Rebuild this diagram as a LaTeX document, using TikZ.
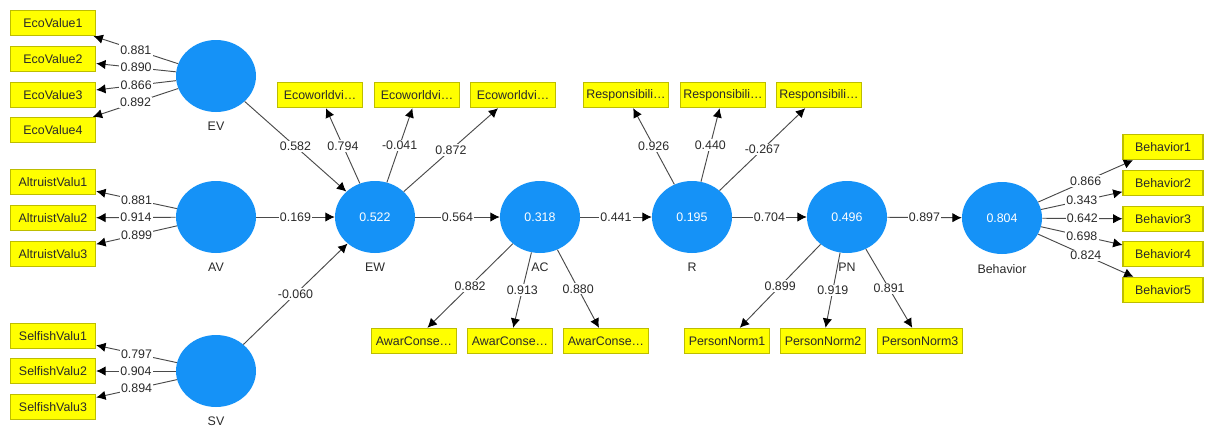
\documentclass[tikz,border=0pt]{standalone}
\usepackage{fontspec}
\setmainfont{Liberation Sans}
\usetikzlibrary{shapes.geometric}
\usetikzlibrary{arrows.meta}
\usetikzlibrary{positioning}

\definecolor{latentblue}{HTML}{1592F7}
\definecolor{itemyellow}{HTML}{FFFF00}
\definecolor{itemborder}{HTML}{BDBD00}
\definecolor{linegray}{HTML}{4A4A4A}
\definecolor{textdark}{HTML}{2A2A2A}

\begin{document}
\begin{tikzpicture}[
    x=0.75pt, y=-0.75pt,
    font=\fontsize{9.3}{11}\selectfont,
    latentnode/.style={ellipse, fill=latentblue, text=white, minimum width=60pt, minimum height=54pt, inner sep=0pt,
        label={[label distance=4pt, text=textdark]below:#1}},
    itemnode/.style={rectangle, fill=itemyellow, draw=itemborder, line width=0.8pt, text=textdark, minimum width=64pt, minimum height=19pt, inner sep=1pt},
    coefnode/.style={fill=white, inner sep=1pt, text=textdark, midway},
    pathline/.style={draw=linegray, line width=0.7pt, -{Latex[length=7pt, width=7pt, color=black]}},
    ]

    \useasboundingbox[fill=white] (0,0) rectangle (1205,429);

    %Latent variables
    \node[latentnode=EV] (ev) at (216,76) {};
    \node[latentnode=AV] (av) at (216,217) {};
    \node[latentnode=SV] (sv) at (216,371) {};
    \node[latentnode=EW] (ew) at (375,217) {0.522};
    \node[latentnode=AC] (ac) at (540,217) {0.318};
    \node[latentnode=R] (r) at (692,217) {0.195};
    \node[latentnode=PN] (pn) at (847,217) {0.496};
    \node[latentnode=Behavior] (beh) at (1002,218) {0.804};

    %Indicators
    \node[itemnode] (ecovalue1) at (53,23) {EcoValue1};
    \node[itemnode] (ecovalue2) at (53,59) {EcoValue2};
    \node[itemnode] (ecovalue3) at (53,95) {EcoValue3};
    \node[itemnode] (ecovalue4) at (53,130) {EcoValue4};
    \node[itemnode] (altruist1) at (53,182) {AltruistValu1};
    \node[itemnode] (altruist2) at (53,218) {AltruistValu2};
    \node[itemnode] (altruist3) at (53,254) {AltruistValu3};
    \node[itemnode] (selfish1) at (53,336) {SelfishValu1};
    \node[itemnode] (selfish2) at (53,371) {SelfishValu2};
    \node[itemnode] (selfish3) at (53,407) {SelfishValu3};
    \node[itemnode] (ecoworld1) at (320,95) {Ecoworldvi…};
    \node[itemnode] (ecoworld2) at (417,95) {Ecoworldvi…};
    \node[itemnode] (ecoworld3) at (513,95) {Ecoworldvi…};
    \node[itemnode] (awarcons1) at (414,341) {AwarConse…};
    \node[itemnode] (awarcons2) at (510,341) {AwarConse…};
    \node[itemnode] (awarcons3) at (606,341) {AwarConse…};
    \node[itemnode] (respons1) at (626,95) {Responsibili…};
    \node[itemnode] (respons2) at (723,95) {Responsibili…};
    \node[itemnode] (respons3) at (819,95) {Responsibili…};
    \node[itemnode] (persnorm1) at (727,341) {PersonNorm1};
    \node[itemnode] (persnorm2) at (823,341) {PersonNorm2};
    \node[itemnode] (persnorm3) at (920,341) {PersonNorm3};
    \node[itemnode, minimum width=60pt] (behavior1) at (1163,147) {Behavior1};
    \node[itemnode, minimum width=60pt] (behavior2) at (1163,183) {Behavior2};
    \node[itemnode, minimum width=60pt] (behavior3) at (1163,219) {Behavior3};
    \node[itemnode, minimum width=60pt] (behavior4) at (1163,254) {Behavior4};
    \node[itemnode, minimum width=60pt] (behavior5) at (1163,290) {Behavior5};

    %Loadings
    \draw[pathline] (ev) -- node[coefnode] {0.881} (ecovalue1);
    \draw[pathline] (ev) -- node[coefnode] {0.890} (ecovalue2);
    \draw[pathline] (ev) -- node[coefnode] {0.866} (ecovalue3);
    \draw[pathline] (ev) -- node[coefnode] {0.892} (ecovalue4);
    \draw[pathline] (av) -- node[coefnode] {0.881} (altruist1);
    \draw[pathline] (av) -- node[coefnode] {0.914} (altruist2);
    \draw[pathline] (av) -- node[coefnode] {0.899} (altruist3);
    \draw[pathline] (sv) -- node[coefnode] {0.797} (selfish1);
    \draw[pathline] (sv) -- node[coefnode] {0.904} (selfish2);
    \draw[pathline] (sv) -- node[coefnode] {0.894} (selfish3);
    \draw[pathline] (ew) -- node[coefnode] {0.794} (ecoworld1);
    \draw[pathline] (ew) -- node[coefnode] {-0.041} (ecoworld2);
    \draw[pathline] (ew) -- node[coefnode] {0.872} (ecoworld3);
    \draw[pathline] (ac) -- node[coefnode] {0.882} (awarcons1);
    \draw[pathline] (ac) -- node[coefnode] {0.913} (awarcons2);
    \draw[pathline] (ac) -- node[coefnode] {0.880} (awarcons3);
    \draw[pathline] (r) -- node[coefnode] {0.926} (respons1);
    \draw[pathline] (r) -- node[coefnode] {0.440} (respons2);
    \draw[pathline] (r) -- node[coefnode] {-0.267} (respons3);
    \draw[pathline] (pn) -- node[coefnode] {0.899} (persnorm1);
    \draw[pathline] (pn) -- node[coefnode] {0.919} (persnorm2);
    \draw[pathline] (pn) -- node[coefnode] {0.891} (persnorm3);
    \draw[pathline] (beh) -- node[coefnode] {0.866} (behavior1);
    \draw[pathline] (beh) -- node[coefnode] {0.343} (behavior2);
    \draw[pathline] (beh) -- node[coefnode] {0.642} (behavior3);
    \draw[pathline] (beh) -- node[coefnode] {0.698} (behavior4);
    \draw[pathline] (beh) -- node[coefnode] {0.824} (behavior5);

    %Paths
    \draw[pathline] (ev) -- node[coefnode] {0.582} (ew);
    \draw[pathline] (av) -- node[coefnode] {0.169} (ew);
    \draw[pathline] (sv) -- node[coefnode] {-0.060} (ew);
    \draw[pathline] (ew) -- node[coefnode] {0.564} (ac);
    \draw[pathline] (ac) -- node[coefnode] {0.441} (r);
    \draw[pathline] (r) -- node[coefnode] {0.704} (pn);
    \draw[pathline] (pn) -- node[coefnode] {0.897} (beh);

\end{tikzpicture}
\end{document}
